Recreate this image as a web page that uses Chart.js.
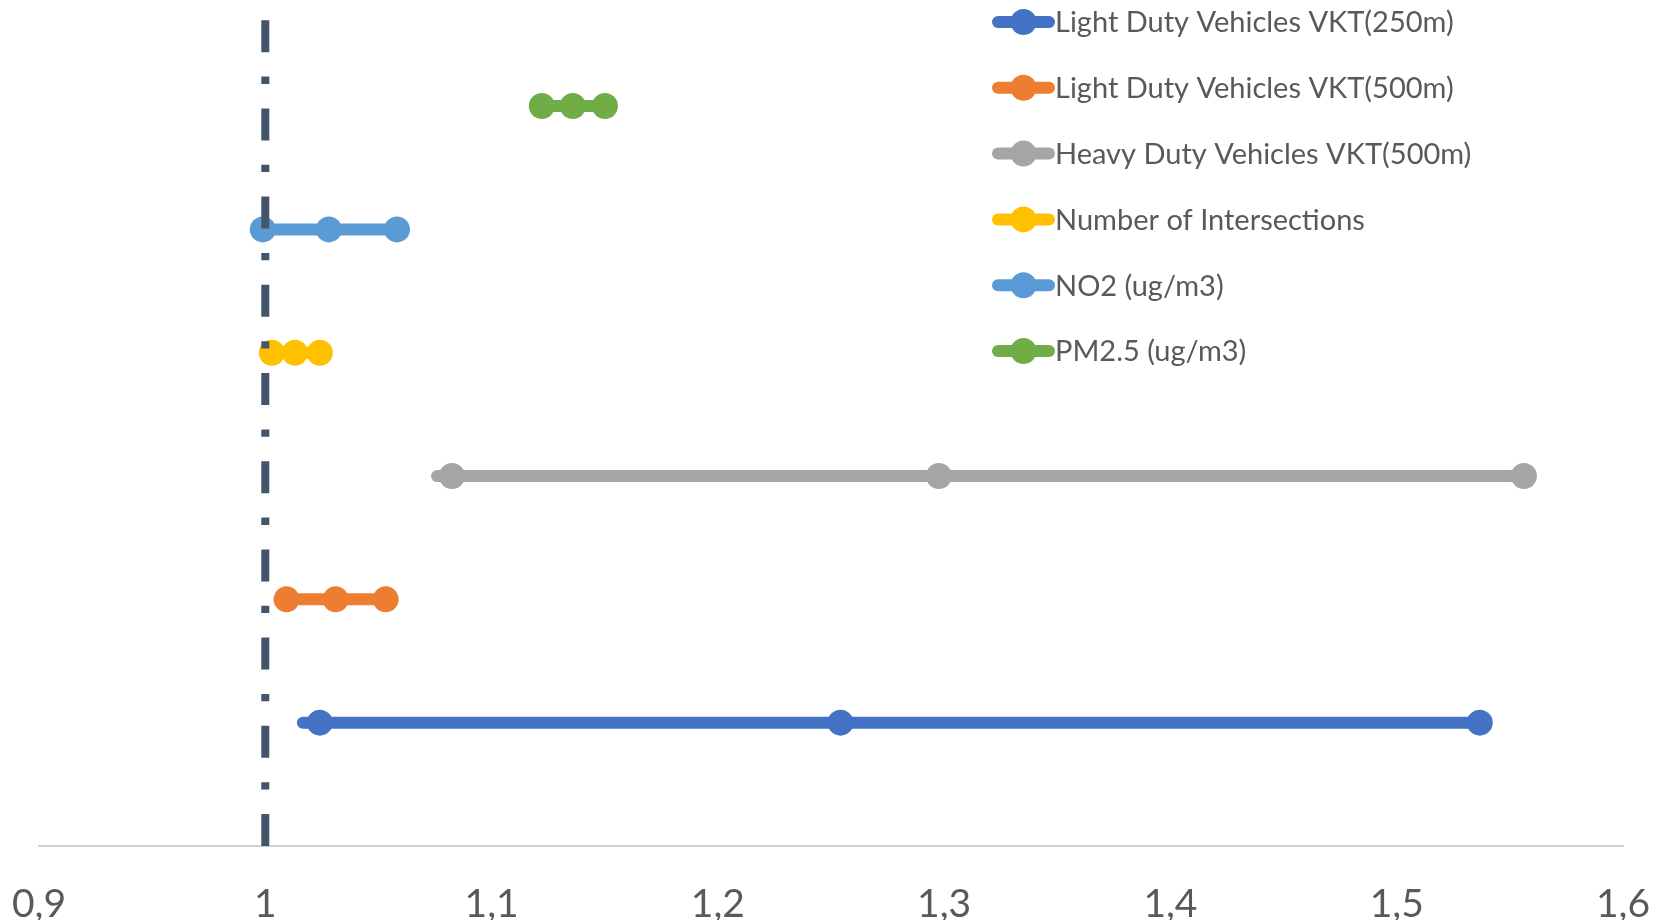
<!DOCTYPE html>
<html>
<head>
<meta charset="utf-8">
<title>Odds ratios</title>
<script src="https://cdn.jsdelivr.net/npm/chart.js@4.4.1/dist/chart.umd.min.js"></script>
<style>
  html, body { margin: 0; padding: 0; background: #ffffff; }
  #wrap { width: 1658px; height: 920px; position: relative; }
</style>
</head>
<body>
<div id="wrap"><canvas id="chart" width="1658" height="920"></canvas></div>
<script>
// Exposure variables, one row each (bottom to top)
const categories = [
  'Light Duty Vehicles VKT(250m)',
  'Light Duty Vehicles VKT(500m)',
  'Heavy Duty Vehicles VKT(500m)',
  'Number of Intersections',
  'NO2 (ug/m3)',
  'PM2.5 (ug/m3)'
];
const rowPositions = [1, 2, 3, 4, 5, 6];

// Interval values per row
const lineStart  = [1.0166, 1.0094, 1.0759, 1.0029, 0.9989, 1.1222];
const lowerBound = [1.0241, 1.0094, 1.0825, 1.0029, 0.9989, 1.1222];
const estimate   = [1.2542, 1.0311, 1.2977, 1.0131, 1.0281, 1.1359];
const upperBound = [1.5367, 1.0532, 1.5562, 1.0241, 1.0582, 1.1501];

// Null-effect reference line
const referenceValue = 1;
const referenceSpan = [0, 7];

// X axis ticks
const xTickValues = [0.9, 1.0, 1.1, 1.2, 1.3, 1.4, 1.5, 1.6];
const xTickLabels = ['0,9', '1', '1,1', '1,2', '1,3', '1,4', '1,5', '1,6'];

const seriesColors = ['#4472C4', '#ED7D31', '#A5A5A5', '#FFC000', '#5B9BD5', '#70AD47'];
const textColor = '#595959';
const FONT = 'Lato, "Open Sans", "Liberation Sans", sans-serif';

const seriesDatasets = categories.map((name, i) => ({
  label: name,
  data: [
    { x: lineStart[i],  y: rowPositions[i] },
    { x: lowerBound[i], y: rowPositions[i] },
    { x: estimate[i],   y: rowPositions[i] },
    { x: upperBound[i], y: rowPositions[i] }
  ],
  borderColor: seriesColors[i],
  backgroundColor: seriesColors[i],
  borderWidth: 12,
  borderCapStyle: 'round',
  borderJoinStyle: 'round',
  pointRadius: [0, 13, 13, 13],
  pointHoverRadius: [0, 13, 13, 13],
  pointBorderWidth: 0,
  pointBackgroundColor: seriesColors[i],
  tension: 0,
  clip: false,
  showInLegend: true
}));

const referenceDataset = {
  label: 'reference',
  data: referenceSpan.map(y => ({ x: referenceValue, y })),
  borderColor: '#44546A',
  borderWidth: 8,
  borderCapStyle: 'butt',
  borderDash: [32, 24.5, 7.3, 24.4],
  pointRadius: 0,
  pointHoverRadius: 0,
  tension: 0,
  order: -1,
  showInLegend: false
};

function tickLabelFor(value) {
  const i = xTickValues.findIndex(v => Math.abs(v - value) < 1e-6);
  return i >= 0 ? xTickLabels[i] : '';
}

// Legend drawn inside the plot, stacked at the upper right
const sideLegend = {
  id: 'sideLegend',
  afterDraw(chart, args, opts) {
    const ctx = chart.ctx;
    ctx.save();
    ctx.font = `${opts.fontSize}px ${FONT}`;
    ctx.textBaseline = 'middle';
    ctx.textAlign = 'left';
    let row = 0;
    chart.data.datasets.forEach(ds => {
      if (!ds.showInLegend) return;
      const y = opts.top + row * opts.spacing;
      ctx.strokeStyle = ds.borderColor;
      ctx.lineWidth = opts.lineWidth;
      ctx.lineCap = 'round';
      ctx.setLineDash([]);
      ctx.beginPath();
      ctx.moveTo(opts.left, y);
      ctx.lineTo(opts.left + opts.symbolWidth, y);
      ctx.stroke();
      ctx.fillStyle = ds.borderColor;
      ctx.beginPath();
      ctx.arc(opts.left + opts.symbolWidth / 2, y, opts.radius, 0, Math.PI * 2);
      ctx.fill();
      ctx.fillStyle = textColor;
      ctx.fillText(ds.label, opts.left + opts.symbolWidth + opts.gap, y + 1);
      row++;
    });
    ctx.restore();
  }
};

new Chart(document.getElementById('chart'), {
  type: 'line',
  data: { datasets: [...seriesDatasets, referenceDataset] },
  options: {
    responsive: false,
    animation: false,
    devicePixelRatio: 1,
    layout: { autoPadding: false, padding: { left: 39, right: 35, top: 0, bottom: 0 } },
    plugins: {
      legend: { display: false },
      tooltip: { enabled: false },
      sideLegend: {
        left: 998, top: 22, spacing: 65.8, symbolWidth: 51,
        lineWidth: 12, radius: 13, gap: 6, fontSize: 29
      }
    },
    scales: {
      x: {
        type: 'linear',
        min: 0.9,
        max: 1.6,
        afterBuildTicks: scale => { scale.ticks = xTickValues.map(v => ({ value: v })); },
        afterFit: scale => {
          scale.height = 74;
          scale.paddingLeft = 0;
          scale.paddingRight = 0;
        },
        grid: { display: false },
        border: { display: true, color: '#D0D0D0', width: 2 },
        ticks: {
          callback: value => tickLabelFor(value),
          color: textColor,
          font: { family: FONT, size: 39, lineHeight: 1 },
          padding: 31,
          maxRotation: 0,
          autoSkip: false
        }
      },
      y: {
        type: 'linear',
        display: false,
        min: 0,
        max: 6.86
      }
    }
  },
  plugins: [sideLegend]
});
</script>
</body>
</html>
